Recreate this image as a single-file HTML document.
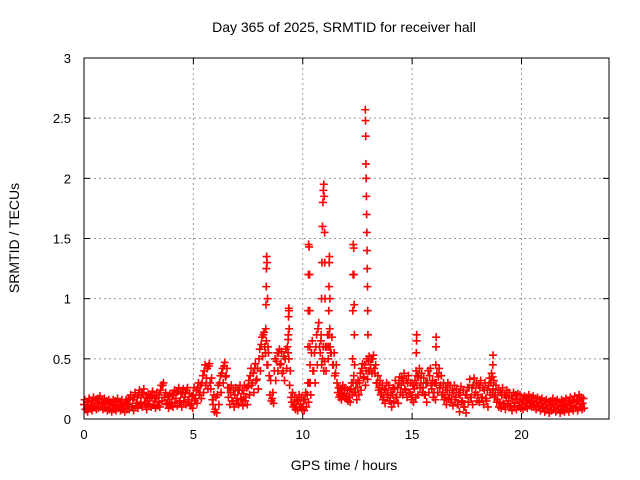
<!DOCTYPE html>
<html><head><meta charset="utf-8"><style>
body{margin:0;background:#fff}
svg{display:block;font-family:"Liberation Sans",sans-serif}
</style></head><body>
<svg id="chart" width="640" height="480">
<rect width="640" height="480" fill="#fff"/>
<text x="344" y="32" font-size="14" text-anchor="middle">Day 365 of 2025, SRMTID for receiver hall</text>
<text x="344" y="470" font-size="14" text-anchor="middle">GPS time / hours</text>
<text transform="translate(19,238) rotate(-90)" font-size="14" text-anchor="middle">SRMTID / TECUs</text>
<g id="grid"></g>
<g id="axes"></g>
<g id="marks"></g>
<rect x="84" y="58" width="525" height="361" fill="none" stroke="#000" stroke-width="1"/>
</svg>
<script>
const xTicks=[0,5,10,15,20];
const yTicks=[0,0.5,1,1.5,2,2.5,3];
const yTickLabels=["0","0.5","1","1.5","2","2.5","3"];
const baseStart=0, baseStep=0.1;
const baseValues=[
.12,.08,.14,.10,.15,.11,.13,.16,.12,.14,
.10,.13,.09,.12,.11,.14,.10,.12,.09,.13,
.12,.16,.10,.18,.13,.20,.14,.22,.12,.17,
.15,.19,.12,.17,.14,.24,.28,.18,.13,.16,
.14,.20,.17,.23,.15,.21,.18,.24,.16,.13,
.20,.17,.26,.22,.30,.40,.34,.44,.25,.12,
.08,.20,.30,.38,.44,.36,.18,.22,.15,.20,
.17,.24,.16,.21,.18,.27,.36,.30,.42,.33,
.50,.62,.70,.55,.45,.20,.17,.40,.48,.55,
.46,.40,.50,.60,.28,.14,.12,.10,.15,.12,
.10,.16,.20,.30,.55,.40,.60,.75,.55,.50,
.48,.60,.70,.55,.45,.38,.22,.20,.24,.21,
.19,.18,.25,.30,.22,.26,.30,.42,.35,.40,
.48,.45,.50,.38,.30,.26,.22,.18,.24,.20,
.15,.20,.25,.18,.30,.28,.32,.24,.30,.22,
.20,.25,.28,.35,.30,.26,.20,.30,.36,.25,
.22,.30,.35,.28,.22,.18,.24,.20,.16,.22,
.18,.12,.20,.15,.10,.20,.26,.18,.28,.22,
.20,.26,.18,.24,.15,.28,.30,.25,.20,.16,
.14,.20,.12,.18,.15,.11,.17,.13,.16,.14,
.12,.15,.13,.16,.14,.15,.12,.14,.11,.13,
.10,.12,.09,.11,.13,.10,.12,.08,.11,.10,
.12,.09,.13,.11,.14,.10,.15,.12,.13];
const highValues=[
.16,.14,.17,.15,.18,.16,.17,.19,.16,.17,
.15,.16,.14,.16,.15,.17,.14,.16,.13,.16,
.17,.20,.16,.22,.18,.24,.20,.25,.18,.21,
.20,.23,.18,.22,.20,.28,.30,.22,.19,.21,
.20,.24,.22,.26,.21,.25,.22,.26,.21,.19,
.26,.24,.30,.28,.36,.45,.42,.46,.34,.20,
.18,.28,.36,.42,.47,.42,.26,.28,.24,.26,
.24,.28,.24,.28,.26,.32,.42,.38,.46,.42,
.58,.68,.72,.65,.55,.32,.22,.50,.55,.58,
.56,.52,.58,.66,.40,.22,.18,.16,.20,.18,
.16,.22,.30,.45,.65,.55,.70,.80,.65,.60,
.60,.70,.75,.68,.55,.45,.26,.25,.28,.26,
.24,.24,.30,.36,.30,.32,.38,.46,.45,.50,
.52,.50,.53,.45,.36,.32,.28,.25,.30,.28,
.22,.26,.32,.26,.35,.34,.38,.32,.36,.30,
.28,.32,.36,.42,.38,.34,.30,.40,.42,.32,
.30,.38,.42,.36,.30,.26,.30,.28,.24,.28,
.25,.22,.27,.24,.20,.26,.33,.26,.34,.30,
.28,.32,.26,.30,.24,.34,.38,.32,.28,.24,
.22,.26,.20,.24,.22,.19,.22,.20,.21,.20,
.17,.19,.18,.20,.18,.19,.17,.18,.16,.17,
.15,.16,.14,.15,.17,.15,.16,.14,.16,.15,
.17,.15,.18,.16,.19,.16,.20,.18,.17];
const lowValues=[
.08,.06,.09,.07,.10,.08,.09,.10,.08,.09,
.07,.08,.06,.08,.07,.09,.07,.08,.06,.08,
.08,.10,.07,.11,.09,.12,.10,.13,.08,.11,
.10,.12,.09,.11,.10,.15,.18,.12,.09,.11,
.10,.13,.11,.15,.10,.14,.12,.16,.11,.09,
.15,.13,.20,.17,.22,.28,.25,.30,.16,.06,
.05,.12,.22,.30,.35,.26,.12,.15,.10,.13,
.12,.17,.11,.15,.12,.20,.28,.22,.32,.25,
.40,.52,.60,.45,.36,.15,.13,.32,.40,.45,
.38,.32,.42,.50,.18,.10,.08,.07,.10,.08,
.07,.10,.14,.20,.40,.30,.45,.60,.45,.40,
.40,.50,.55,.45,.36,.30,.18,.16,.19,.17,
.15,.14,.20,.22,.16,.20,.24,.34,.28,.33,
.40,.38,.42,.30,.24,.20,.16,.13,.18,.15,
.10,.14,.18,.13,.22,.20,.25,.18,.22,.16,
.14,.18,.20,.26,.22,.20,.14,.22,.28,.18,
.16,.22,.26,.20,.16,.12,.17,.14,.11,.16,
.12,.06,.14,.10,.05,.14,.18,.12,.20,.15,
.14,.18,.12,.17,.10,.20,.22,.18,.14,.10,
.09,.13,.08,.12,.10,.07,.11,.08,.10,.09,
.08,.10,.09,.11,.10,.10,.08,.10,.07,.09,
.06,.08,.05,.07,.08,.06,.08,.05,.07,.06,
.08,.06,.09,.07,.09,.07,.10,.08,.09];
const spikeTimes=[8.30,8.31,8.32,8.33,8.34,8.35,8.37,8.39,8.41,
9.33,9.34,9.35,9.36,9.37,9.38,
10.24,10.25,10.26,10.27,10.29,10.31,10.32,10.33,10.34,
10.84,10.86,10.88,10.90,10.92,10.94,10.96,10.98,11.00,11.01,11.02,
11.18,11.19,11.20,11.21,11.22,11.24,11.25,
12.28,12.29,12.30,12.31,12.33,12.34,12.35,12.36,12.37,
12.86,12.87,12.88,12.89,12.90,12.91,12.92,12.93,12.94,12.95,12.96,12.97,12.98,12.99,
15.18,15.19,15.20,15.21,16.08,16.09,16.10,18.68,18.69,18.70];
const spikeValues=[0.55,0.75,0.95,1.1,1.25,1.35,1.3,1.0,0.6,
0.55,0.7,0.85,0.92,0.9,0.75,
0.6,0.9,1.2,1.45,1.43,1.2,0.9,0.6,0.3,
0.7,1.0,1.3,1.6,1.8,1.9,1.95,1.85,1.55,1.3,1.0,
0.6,0.9,1.1,1.3,1.35,1.0,0.6,
0.5,0.9,1.2,1.45,1.42,1.2,0.95,0.7,0.45,
2.57,2.48,2.35,2.12,2.0,1.85,1.7,1.55,1.4,1.25,1.1,0.9,0.7,0.4,
0.4,0.55,0.65,0.7,0.45,0.6,0.68,0.35,0.45,0.53];
const X0=84,X1=609,Y0=419,Y1=58,XMAX=24,YMAX=3;
const sx=t=>X0+(X1-X0)*t/XMAX;
const sy=v=>Y0-(Y0-Y1)*v/YMAX;
const NS="http://www.w3.org/2000/svg";
const grid=document.getElementById('grid'),axes=document.getElementById('axes'),marks=document.getElementById('marks');
function mk(tag,attrs,parent){const e=document.createElementNS(NS,tag);for(const k in attrs)e.setAttribute(k,attrs[k]);parent.appendChild(e);return e;}
xTicks.forEach(t=>{
 const x=sx(t);
 if(t>0){const g=mk('line',{x1:x,x2:x,y1:Y1,y2:Y0,stroke:'#999','stroke-dasharray':'2,3'},grid);
 
 }
 mk('line',{x1:x,x2:x,y1:Y0,y2:Y0-6,stroke:'#000'},axes);
 mk('line',{x1:x,x2:x,y1:Y1,y2:Y1+6,stroke:'#000'},axes);
 const l=mk('text',{x:x,y:Y0+20,'font-size':13,'text-anchor':'middle'},axes);l.textContent=t;
 
 
});
yTicks.forEach((v,i)=>{
 const y=sy(v);
 if(v>0&&v<YMAX){const g=mk('line',{x1:X0,x2:X1,y1:y,y2:y,stroke:'#999','stroke-dasharray':'2,3'},grid);
 
 }
 mk('line',{x1:X0,x2:X0+6,y1:y,y2:y,stroke:'#000'},axes);
 mk('line',{x1:X1,x2:X1-6,y1:y,y2:y,stroke:'#000'},axes);
 const l=mk('text',{x:X0-13,y:y+5,'font-size':13,'text-anchor':'end'},axes);l.textContent=yTickLabels[i];
 
 
});
function plus(t,v){
 const x=sx(t),y=sy(v);
 const p=mk('path',{d:`M${x-4},${y}H${x+4}M${x},${y-4}V${y+4}`,stroke:'#f00','stroke-width':1.6,fill:'none'},marks);
 
 
}
baseValues.forEach((v,i)=>plus(baseStart+i*baseStep,v));
highValues.forEach((v,i)=>plus(baseStart+i*baseStep+0.033,v));
lowValues.forEach((v,i)=>plus(baseStart+i*baseStep+0.066,v));
spikeTimes.forEach((t,i)=>plus(t,spikeValues[i]));
</script>
</body></html>
